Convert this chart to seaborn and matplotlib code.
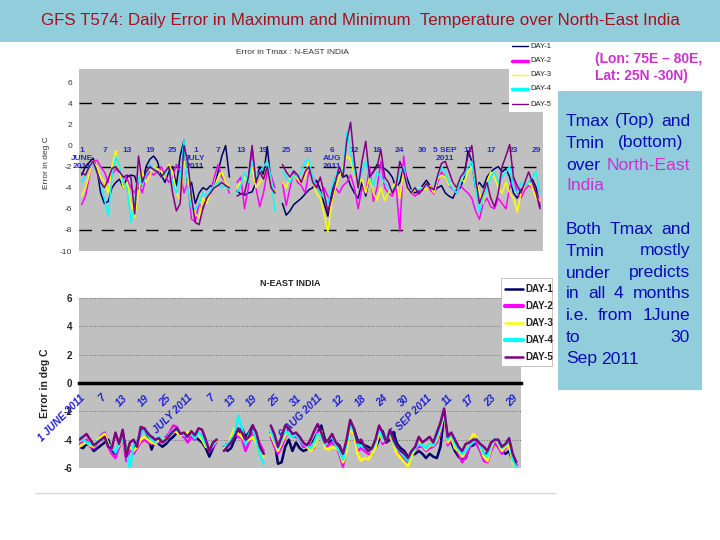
import numpy as np
import pandas as pd
import matplotlib.pyplot as plt
import seaborn as sns
from matplotlib.lines import Line2D
from matplotlib.patches import Rectangle

sns.set_style('white')
plt.rcParams['font.family'] = ['Liberation Sans', 'DejaVu Sans']
plt.rcParams['axes.unicode_minus'] = False

nan = np.nan
series_names = ['DAY-1', 'DAY-2', 'DAY-3', 'DAY-4', 'DAY-5']
colors = ['#000066', '#FF00FF', '#FFFF00', '#00FFFF', '#800080']

# day index 0 = 1 June 2011 ... 121 = 30 Sep 2011
# ---- Tmax error (top chart) ----
tmax_day1 = [-2.8, -2.0, -1.6, -1.2, -2.2, -4.5, -5.5, -5.3, -4.0, -3.5,
             -3.2, -4.0, -3.0, -2.8, -2.9, -4.2, -3.6, -2.0, -1.3, -1.0,
             -1.5, -2.8, -3.5, -2.5, -2.0, -3.8, -1.0, 0.5, -4.0, -3.5,
             -5.5, -4.5, -4.0, -4.2, -3.8, -4.0, -2.5, -1.0, 0.0, -3.0,
             nan, -4.3, -4.6, -4.7, -4.5, -4.4, -3.5, -2.0, -2.8, -0.1,
             -3.5, -4.5, nan, -5.5, -6.6, -6.2, -5.6, -5.3, -5.0, -4.6,
             -4.2, -4.0, -3.3, -4.2, -5.5, -6.7, -4.5, -3.0, -2.5, -3.0,
             -2.8, -3.8, -4.5, -5.0, -3.5, -4.8, -3.0, -2.5, -1.8, -2.0,
             -2.2, -2.5, -3.0, -4.0, -3.5, -2.0, -3.2, -4.2, -4.5, -4.3,
             -3.8, -3.3, -3.8, -4.3, -4.0, -3.8, -4.5, -4.8, -5.0, -4.2,
             -4.0, -3.0, -0.5, -1.5, -4.0, -3.5, -4.0, -3.0, -2.5, -2.2,
             -2.0, -2.5, -2.2, -3.0, -4.5, -5.0, -4.2, -3.8, -3.5, -3.2, -4.0, -5.8]
tmax_day2 = [-5.6, -4.8, -3.0, -1.5, -1.4, -2.0, -2.5, -3.5, -2.8, -2.2,
             -2.6, -3.0, -3.2, -4.0, -4.5, -3.5, -4.5, -3.0, -2.5, -2.8,
             -2.5, -2.0, -2.8, -3.5, -3.0, -1.8, -2.5, -4.5, -3.5, -7.0,
             -7.2, -5.5, -6.0, -5.0, -4.5, -3.0, -1.8, -3.0, -3.5, -4.5,
             nan, -3.5, -3.0, -6.0, -4.0, -0.2, -4.0, -5.8, -4.5, -2.5,
             -2.8, -4.0, nan, -3.5, -5.7, -4.0, -2.5, -3.5, -3.8, -4.5,
             -2.5, -3.0, -3.8, -4.5, -4.0, -4.8, -5.5, -4.0, -4.5, -3.8,
             -3.5, -2.8, -4.0, -6.0, -4.0, -4.5, -2.0, -5.3, -4.0, -1.5,
             -4.0, -4.5, -4.8, -3.8, -8.2, -1.0, -4.0, -4.5, -4.8, -4.5,
             -4.0, -3.8, -4.2, -4.6, -3.5, -2.5, -3.0, -3.8, -4.2, -4.5,
             -3.8, -4.2, -4.5, -5.0, -6.2, -7.0, -5.5, -5.0, -5.8, -6.0,
             -5.0, -5.5, -6.0, -4.0, -3.0, -4.5, -5.0, -4.2, -3.8, -4.0, -4.5, -5.5]
tmax_day3 = [-4.8, -4.0, -2.8, -1.5, -2.0, -3.0, -3.5, -4.5, -2.0, -0.5,
             -2.5, -4.0, -3.5, -5.5, -6.8, -4.5, -2.5, -3.5, -2.8, -2.0,
             -2.2, -2.5, -3.0, -1.8, -2.5, -4.5, -5.2, -1.5, -3.0, -5.5,
             -6.5, -6.8, -5.0, -5.5, -4.5, -4.0, -3.0, -2.5, -3.5, -4.0,
             nan, -4.0, -3.5, -3.0, -3.5, -2.0, -4.0, -3.5, -3.0, -2.0,
             -3.5, -4.5, nan, -3.5, -4.0, -3.0, -2.8, -3.2, -3.5, -3.0,
             -1.5, -3.5, -4.5, -5.0, -6.5, -8.2, -5.5, -4.0, -3.0, -2.0,
             -1.0, -1.3, -2.8, -3.5, -3.2, -4.5, -3.0, -4.5, -5.2, -4.0,
             -5.2, -4.5, -4.0, -3.5, -5.0, -2.5, -4.2, -4.5, -4.2, -4.0,
             -4.0, -4.2, -3.8, -4.5, -3.2, -2.8, -3.0, -3.8, -3.5, -4.0,
             -3.0, -3.5, -2.5, -2.0, -3.0, -4.5, -5.5, -3.5, -2.5, -3.0,
             -4.0, -4.5, -3.5, -4.5, -5.0, -6.3, -4.5, -3.8, -3.5, -4.0, -5.0, -5.2]
tmax_day4 = [-3.5, -2.8, -2.0, -1.8, -2.5, -3.5, -5.0, -6.7, -3.0, -1.0,
             -2.0, -3.5, -4.0, -7.3, -5.5, -3.0, -3.8, -2.8, -1.8, -2.2,
             -2.5, -3.0, -2.8, -2.0, -3.5, -4.5, -3.0, 0.5, -4.0, -6.0,
             -6.0, -5.5, -4.5, -4.8, -4.2, -3.8, -3.5, -4.0, -3.8, -4.2,
             nan, -4.5, -3.8, -2.5, -3.5, -1.5, -3.0, -2.5, -2.0, -1.5,
             -3.0, -6.2, nan, -2.5, -3.0, -3.5, -2.8, -3.0, -2.5, -1.5,
             -1.3, -3.0, -4.0, -4.5, -5.0, -5.5, -4.0, -3.0, -2.0, -2.5,
             1.3, -0.5, -2.5, -3.5, -2.5, -1.5, -3.0, -3.8, -2.5, -3.0,
             -3.5, -4.0, -4.2, -3.8, -2.5, -2.0, -4.0, -4.3, -4.0, -4.2,
             -4.0, -3.8, -4.0, -4.2, -3.0, -2.0, -2.5, -3.5, -4.2, -4.5,
             -3.5, -2.8, -2.0, -1.5, -4.0, -6.3, -5.0, -4.0, -3.0, -2.5,
             -3.5, -3.0, -2.5, -2.0, -4.0, -4.5, -3.5, -3.8, -3.5, -3.0, -2.5, -4.5]
tmax_day5 = [-2.6, -2.8, -2.0, -1.5, -2.5, -3.5, -4.0, -3.2, -2.2, -2.0,
             -2.5, -3.0, -2.8, -3.0, -6.5, -1.0, -3.5, -2.5, -2.0, -2.3,
             -2.5, -3.0, -2.5, -2.0, -4.5, -6.2, -5.5, 0.0, -1.5, -5.0,
             -7.3, -7.5, -6.0, -5.0, -4.5, -4.0, -3.8, -3.5, -3.8, -4.0,
             nan, -4.8, -4.6, -4.5, -3.0, 0.0, -3.5, -2.5, -3.2, -2.0,
             -4.0, -4.5, nan, -1.8, -2.5, -3.0, -2.4, -2.8, -3.5, -2.5,
             -2.0, -3.5, -4.0, -3.0, -4.5, -6.3, -5.0, -3.5, -2.0, -3.0,
             0.5, 2.2, -1.5, -4.0, -1.5, 0.4, -3.0, -2.5, -2.0, -0.4,
             -3.0, -3.5, -4.5, -3.8, -1.5, -2.5, -4.0, -4.5, -4.0, -4.6,
             -4.2, -3.6, -4.0, -4.2, -2.8, -1.7, -1.5, -2.5, -3.5, -4.0,
             -3.0, -2.5, -1.0, 0.0, -3.0, -5.5, -4.5, -3.5, -5.0, -5.8,
             -4.5, -2.0, -1.0, 0.1, -3.0, -3.8, -4.5, -3.5, -2.5, -3.5, -4.5, -6.0]

# ---- Tmin error (bottom chart) ----
tmin_day1 = [-4.5, -4.6, -4.3, -4.4, -4.8, -4.6, -4.4, -4.2, -4.0, -4.8,
             -5.0, -4.5, -3.5, -4.8, -4.5, -4.8, -4.2, -3.5, -3.2, -3.8,
             -4.7, -4.0, -4.3, -4.5, -4.3, -4.0, -3.8, -3.5, -3.6, -3.8,
             -3.6, -3.5, -3.8, -4.0, -4.2, -4.6, -5.2, -4.6, -4.0, nan,
             -4.5, -4.8, -4.6, -4.0, -3.5, -3.2, -3.8, -3.5, -3.0, -3.8,
             -4.5, -5.0, nan, -3.5, -4.0, -5.7, -5.6, -4.5, -4.0, -4.8,
             -4.2, -4.6, -4.8, -4.7, -4.5, -4.0, -3.5, -3.0, -4.0, -4.2,
             -4.0, -4.2, -4.4, -5.0, -4.5, -3.0, -3.2, -4.0, -4.3, -4.4,
             -4.5, -4.7, -4.6, -4.0, -3.4, -4.2, -4.0, -3.5, -4.3, -4.6,
             -4.8, -5.2, -5.1, -5.0, -4.8, -5.0, -5.3, -5.0, -5.2, -5.3,
             -4.5, -2.3, -3.8, -4.2, -4.8, -5.2, -5.4, -5.3, -4.5, -4.4,
             -4.2, -4.5, -5.0, -5.0, -4.5, -4.2, -4.5, -4.8, -5.0, -4.8, -5.5, -5.8]
tmin_day2 = [-4.3, -4.2, -4.0, -4.5, -4.6, -4.2, -3.7, -3.5, -4.5, -5.0,
             -5.3, -4.5, -3.8, -5.5, -4.7, -5.0, -4.6, -4.2, -4.0, -4.2,
             -4.3, -4.0, -4.2, -4.0, -3.8, -3.5, -3.0, -3.1, -3.6, -3.8,
             -4.2, -3.8, -4.0, -3.5, -3.8, -4.2, -4.8, -4.5, -4.2, nan,
             -4.6, -4.3, -4.0, -3.5, -3.8, -3.9, -4.8, -4.2, -3.5, -4.0,
             -4.3, -4.8, nan, -3.8, -4.5, -5.0, -4.5, -3.8, -3.5, -3.8,
             -3.8, -4.0, -4.5, -4.5, -4.3, -4.6, -3.5, -3.4, -4.5, -4.4,
             -4.2, -4.5, -5.0, -5.9, -4.5, -3.0, -3.5, -4.8, -4.6, -4.8,
             -5.0, -5.0, -4.5, -3.5, -4.3, -4.0, -3.8, -4.4, -4.8, -5.0,
             -5.4, -5.6, -5.0, -4.7, -4.5, -4.5, -4.8, -4.6, -4.5, -4.2,
             -3.5, -2.0, -4.4, -4.0, -4.5, -5.0, -5.6, -5.2, -4.6, -4.0,
             -4.3, -4.8, -5.5, -5.6, -4.8, -4.2, -4.5, -5.0, -4.6, -4.2, -5.2, -5.8]
tmin_day3 = [-4.5, -4.3, -4.2, -4.4, -4.5, -4.0, -3.8, -3.6, -4.3, -4.6,
             -4.8, -4.4, -3.9, -5.0, -4.5, -4.8, -4.5, -4.0, -3.8, -4.0,
             -4.2, -4.3, -4.0, -3.9, -4.0, -3.7, -3.3, -3.5, -3.7, -3.6,
             -3.5, -3.4, -3.8, -3.6, -4.0, -4.5, -4.6, -4.3, -4.1, nan,
             -4.6, -4.5, -3.8, -3.2, -3.6, -3.8, -4.2, -4.0, -3.8, -4.2,
             -4.8, -5.2, nan, -3.6, -4.2, -4.8, -4.2, -3.7, -3.5, -3.8,
             -3.6, -4.0, -4.2, -4.5, -4.8, -4.5, -3.8, -3.4, -4.6, -4.7,
             -4.5, -4.6, -4.8, -5.6, -4.8, -3.2, -3.6, -5.0, -5.5, -5.3,
             -5.4, -5.0, -4.6, -3.4, -4.1, -4.0, -3.6, -4.4, -5.0, -5.3,
             -5.6, -5.9, -5.2, -4.6, -4.2, -4.4, -4.7, -4.4, -4.4, -4.0,
             -3.2, -2.0, -4.2, -3.8, -4.6, -4.8, -5.2, -4.8, -4.3, -3.6,
             -3.8, -4.5, -5.2, -5.5, -4.6, -3.9, -4.3, -4.8, -4.5, -4.4, -5.6, -6.0]
tmin_day4 = [-3.8, -4.0, -4.2, -4.3, -4.4, -4.1, -4.0, -3.8, -4.4, -4.5,
             -4.9, -4.2, -4.0, -4.8, -6.1, -4.4, -4.2, -3.5, -3.3, -3.7,
             -4.0, -4.2, -3.8, -4.0, -4.1, -3.6, -3.4, -3.3, -3.5, -3.7,
             -3.7, -3.6, -3.9, -3.5, -3.8, -4.3, -4.7, -4.4, -4.0, nan,
             -4.4, -4.4, -4.0, -3.6, -2.3, -3.2, -4.3, -3.6, -3.2, -4.0,
             -5.0, -5.7, nan, -3.4, -4.0, -4.6, -4.0, -3.4, -3.6, -3.8,
             -3.6, -4.0, -4.3, -4.4, -4.6, -4.2, -3.6, -3.8, -4.3, -4.0,
             -3.8, -4.4, -4.8, -5.4, -4.3, -2.9, -3.4, -4.4, -4.4, -4.6,
             -4.8, -4.7, -4.2, -3.1, -4.0, -3.9, -3.4, -4.2, -4.6, -4.9,
             -5.2, -5.5, -4.9, -4.6, -4.3, -4.4, -4.6, -4.3, -4.4, -3.8,
             -3.0, -1.9, -4.0, -3.6, -4.3, -4.7, -5.0, -4.8, -4.4, -4.2,
             -3.9, -4.4, -5.0, -5.2, -4.4, -3.9, -4.2, -4.6, -4.4, -3.9, -5.4, -6.0]
tmin_day5 = [-4.0, -3.8, -3.6, -4.0, -4.4, -4.2, -4.0, -3.8, -4.5, -4.6,
             -3.5, -4.3, -3.3, -5.2, -4.2, -4.0, -4.5, -3.1, -3.2, -3.6,
             -3.8, -4.0, -3.9, -4.2, -4.0, -3.7, -3.4, -3.2, -3.6, -3.5,
             -3.8, -3.4, -3.7, -3.2, -3.3, -4.0, -4.8, -4.2, -4.0, nan,
             -4.8, -4.5, -4.2, -3.8, -3.2, -3.5, -4.0, -3.8, -3.0, -3.5,
             -4.5, -5.0, nan, -3.0, -3.6, -4.5, -3.8, -3.0, -3.2, -3.6,
             -3.5, -3.8, -4.2, -4.4, -4.0, -3.4, -2.9, -3.5, -4.2, -4.0,
             -3.6, -4.2, -4.5, -5.0, -4.0, -2.6, -3.2, -4.2, -4.0, -4.5,
             -4.8, -4.6, -4.0, -3.0, -3.5, -4.2, -3.3, -4.0, -4.5, -4.8,
             -5.0, -5.3, -4.8, -4.5, -3.8, -4.2, -4.0, -3.8, -4.2, -3.5,
             -2.8, -1.8, -3.8, -3.5, -4.0, -4.5, -4.8, -4.3, -4.2, -4.0,
             -4.0, -4.3, -4.5, -4.8, -4.2, -4.0, -4.0, -4.5, -4.3, -3.9, -5.0, -5.6]

tick_days = list(range(0, 121, 6))
top_tick_labels = ['1\nJUNE\n2011', '7', '13', '19', '25', '1\nJULY\n2011', '7', '13', '19', '25', '31',
                   '6\nAUG\n2011', '12', '18', '24', '30', '5 SEP\n2011', '11', '17', '23', '29']
bottom_tick_labels = ['1 JUNE 2011', '7', '13', '19', '25', '1 JULY 2011', '7', '13', '19', '25', '31',
                      '6 AUG 2011', '12', '18', '24', '30', '5 SEP 2011', '11', '17', '23', '29']

panel_blue = '#92CDDC'
text_blue = '#0A0AB4'
pink = '#D030D0'


def fx(px):
    return px / 720


def fy(py):
    return 1 - py / 540


def long_frame(series_list):
    rows = []
    for name, vals in zip(series_names, series_list):
        seg = 0
        for d, v in enumerate(vals):
            if np.isnan(v):
                seg += 1
                continue
            rows.append((d, v, name, f'{name}-{seg}'))
    return pd.DataFrame(rows, columns=['day', 'err', 'series', 'seg'])


def draw_lines(ax, series_list, lw):
    df = long_frame(series_list)
    sns.lineplot(data=df, x='day', y='err', hue='series', units='seg', estimator=None,
                 hue_order=series_names, palette=dict(zip(series_names, colors)),
                 linewidth=lw, legend=False, sort=False, ax=ax)
    ax.set_xlabel('')
    ax.set_ylabel('')


def fig_legend(fig, ys, x_line, x_text, box, size, weight, lws, edge):
    x0, y0, x1, y1 = box
    fig.add_artist(Rectangle((fx(x0), fy(y1)), fx(x1) - fx(x0), fy(y0) - fy(y1),
                             transform=fig.transFigure, facecolor='white',
                             edgecolor=edge, lw=0.6, zorder=5))
    for name, c, y, lw in zip(series_names, colors, ys, lws):
        fig.add_artist(Line2D([fx(x_line[0]), fx(x_line[1])], [fy(y), fy(y)],
                              transform=fig.transFigure, color=c, lw=lw, zorder=6))
        fig.text(fx(x_text), fy(y), name, fontsize=size, fontweight=weight,
                 color='#222222', va='center', zorder=7)


fig = plt.figure(figsize=(7.2, 5.4), dpi=100)
fig.patch.set_facecolor('white')

# banner
fig.add_artist(Rectangle((0, fy(42)), 1, 42 / 540, transform=fig.transFigure,
                         facecolor=panel_blue, edgecolor='none', zorder=0))
fig.text(0.5, fy(21), 'GFS T574: Daily Error in Maximum and Minimum  Temperature over North-East India',
         ha='center', va='center', fontsize=12.2, color='#A8101C')

# ---- top chart: Tmax ----
ax1 = fig.add_axes([fx(79), fy(251), (543 - 79) / 720, (251 - 69) / 540])
ax1.set_facecolor('#C0C0C0')
draw_lines(ax1, [tmax_day1, tmax_day2, tmax_day3, tmax_day4, tmax_day5], 1.1)
for y in (4, -2, -8):
    ax1.axhline(y, color='black', lw=1.0, dashes=(9, 7), zorder=1)
ax1.set_xlim(-0.71, 121.8)
ax1.set_ylim(-10, 7.25)
for s in ax1.spines.values():
    s.set_visible(False)
ax1.spines['bottom'].set_position(('data', 0))
ax1.set_axisbelow(True)
ax1.set_yticks(range(-10, 7, 2))
ax1.tick_params(axis='y', length=0, pad=5, labelsize=6, labelcolor='#333333')
ax1.set_xticks(tick_days, top_tick_labels)
ax1.tick_params(axis='x', direction='in', length=5, width=0.8, color='black',
                pad=1, labelsize=6, labelcolor='#2A2AC8')
for t in ax1.get_xticklabels():
    t.set_fontweight('bold')
fig.text(fx(292), fy(52), 'Error in Tmax : N-EAST INDIA', ha='center', va='center',
         fontsize=6, color='#333333')
fig.text(fx(47), fy(163), 'Error in deg C', rotation=90, ha='center', va='center',
         fontsize=6, color='#333333')

fig_legend(fig, [46, 61, 75, 89, 104], (512, 528), 530, (509, 42, 552, 112), 5.5, 'normal',
           [1.0, 2.5, 1.0, 2.5, 1.0], 'none')

# ---- bottom chart: Tmin ----
ax2 = fig.add_axes([fx(79), fy(468), (521 - 79) / 720, (468 - 298) / 540])
ax2.set_facecolor('#C0C0C0')
draw_lines(ax2, [tmin_day1, tmin_day2, tmin_day3, tmin_day4, tmin_day5], 1.8)
ax2.set_xlim(-0.1, 122.3)
ax2.set_ylim(-6, 6)
for side in ('top', 'right', 'left'):
    ax2.spines[side].set_visible(False)
ax2.spines['bottom'].set_position(('data', 0))
ax2.spines['bottom'].set_linewidth(2.5)
ax2.spines['bottom'].set_color('black')
ax2.set_yticks(range(-6, 7, 2))
ax2.yaxis.grid(True, color='#707070', linestyle=':', lw=0.7)
ax2.tick_params(axis='y', length=0, pad=5, labelsize=7, labelcolor='#222222')
for t in ax2.get_yticklabels():
    t.set_fontweight('bold')
ax2.set_xticks(tick_days, bottom_tick_labels)
ax2.tick_params(axis='x', direction='inout', length=8, width=1.5, color='black',
                pad=3, labelsize=7.5, labelcolor='#2222D0')
for t in ax2.get_xticklabels():
    t.set_rotation(45)
    t.set_ha('right')
    t.set_va('top')
    t.set_rotation_mode('anchor')
    t.set_fontweight('bold')
    t.set_fontstyle('italic')
fig.text(fx(290), fy(283), 'N-EAST INDIA', ha='center', va='center',
         fontsize=6.5, fontweight='bold', color='#222222')
fig.text(fx(45), fy(383), 'Error in deg C', rotation=90, ha='center', va='center',
         fontsize=7.5, fontweight='bold', color='#222222')

fig_legend(fig, [289, 306, 323, 340, 357], (505, 523), 525, (501, 278, 552, 366), 7, 'bold',
           [1.8, 3.0, 1.8, 3.0, 1.8], '#BBBBBB')

fig.add_artist(Line2D([fx(35), fx(555)], [fy(493), fy(493)], transform=fig.transFigure,
                      color='#D8D8D8', lw=1))

# ---- right-hand notes ----
fig.text(fx(595), fy(59), '(Lon: 75E \u2013 80E,', fontsize=10, fontweight='bold',
         color=pink, va='center')
fig.text(fx(595), fy(76), 'Lat: 25N -30N)', fontsize=10, fontweight='bold',
         color=pink, va='center')

fig.add_artist(Rectangle((fx(558), fy(390)), fx(702) - fx(558), (390 - 91) / 540,
                         transform=fig.transFigure, facecolor=panel_blue,
                         edgecolor='none', zorder=1))

renderer = fig.canvas.get_renderer()


def justify(words, py, cols, x0=566, x1=690, spread=True):
    texts = [fig.text(0, fy(py), w, fontsize=12.6, color=c, va='center', zorder=3)
             for w, c in zip(words, cols)]
    widths = [t.get_window_extent(renderer).width for t in texts]
    if spread and len(words) > 1:
        gap = (x1 - x0 - sum(widths)) / (len(words) - 1)
    else:
        gap = 4.5
    x = x0
    for t, w in zip(texts, widths):
        t.set_x(fx(x))
        x += w + gap


B = text_blue
justify(['Tmax', '(Top)', 'and'], 121, [B, B, B])
justify(['Tmin', '(bottom)'], 143, [B, B], x1=683)
justify(['over', 'North-East'], 165, [B, pink])
justify(['India'], 186, [pink], spread=False)
justify(['Both', 'Tmax', 'and'], 229, [B, B, B])
justify(['Tmin', 'mostly'], 251, [B, B])
justify(['under', 'predicts'], 273, [B, B])
justify(['in', 'all', '4', 'months'], 294, [B, B, B, B])
justify(['i.e.', 'from', '1June'], 316, [B, B, B])
justify(['to', '30'], 338, [B, B])
justify(['Sep', '2011'], 359, [B, B], spread=False)

fig.savefig('out.png', dpi=100)
